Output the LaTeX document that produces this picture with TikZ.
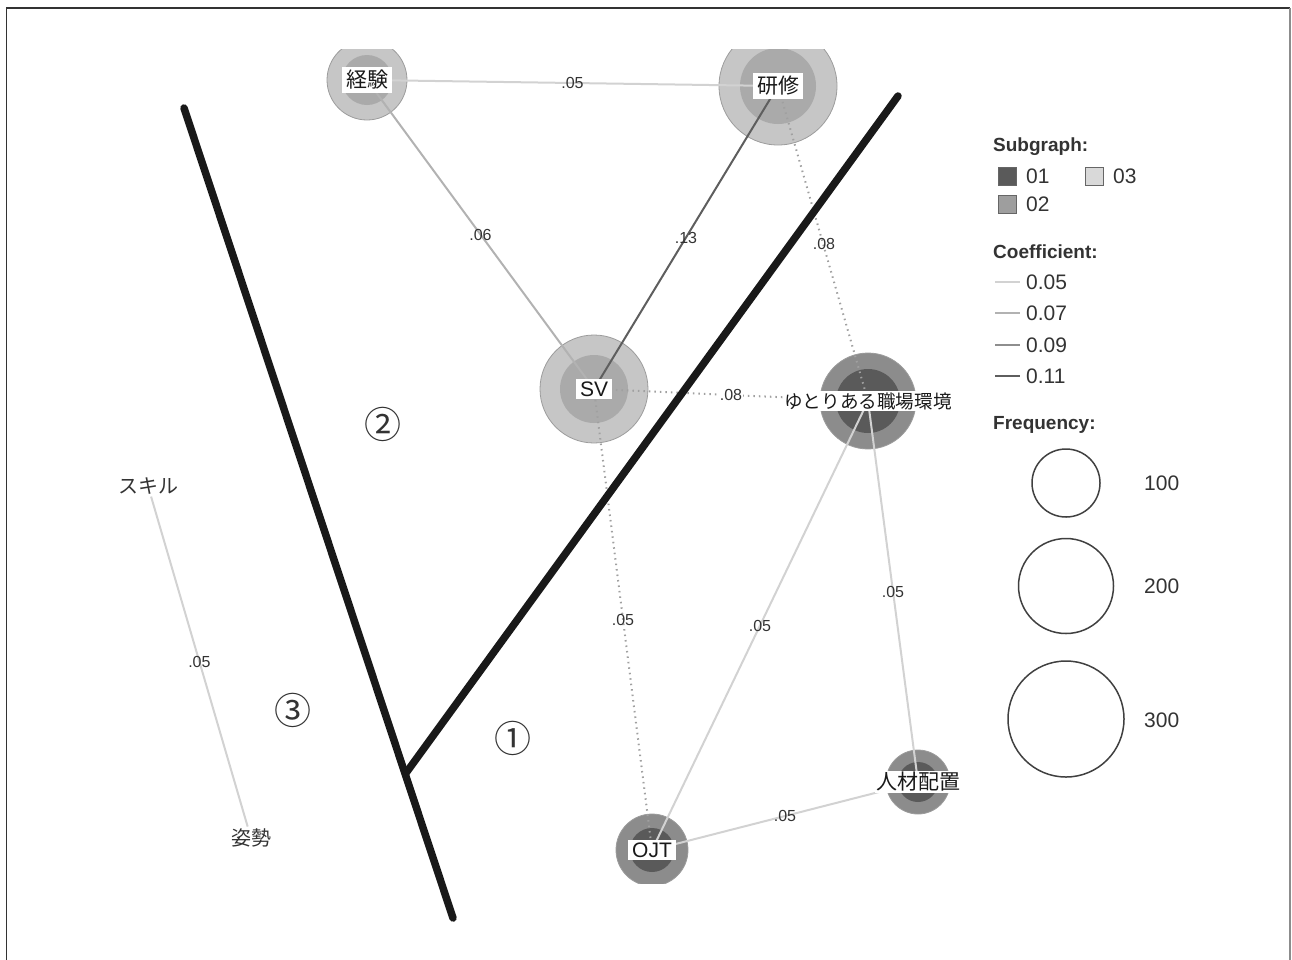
\documentclass[tikz,border=0pt]{standalone}
\usepackage{fontspec}
\setmainfont{Liberation Sans}
\newfontfamily\jp{Noto Sans CJK JP}
\definecolor{sgAout}{HTML}{8C8C8C}
\definecolor{sgAin}{HTML}{5A5A5A}
\definecolor{sgBout}{HTML}{C6C6C6}
\definecolor{sgBin}{HTML}{AAAAAA}
\definecolor{ringline}{HTML}{9C9C9C}
\definecolor{cA}{HTML}{D2D2D2}
\definecolor{cB}{HTML}{B2B2B2}
\definecolor{cC}{HTML}{8E8E8E}
\definecolor{cD}{HTML}{5E5E5E}
\definecolor{dotc}{HTML}{A0A0A0}
\definecolor{txt}{HTML}{333333}
\tikzset{
  outA/.style={circle, fill=sgAout, draw=ringline, line width=0.8pt, inner sep=0pt},
  inA/.style={circle, fill=sgAin, inner sep=0pt},
  outB/.style={circle, fill=sgBout, draw=ringline, line width=0.8pt, inner sep=0pt},
  inB/.style={circle, fill=sgBin, inner sep=0pt},
  lab/.style={fill=white, inner xsep=4pt, inner ysep=3pt, text=black!90, font=\fontsize{21}{23}\selectfont},
  plainlab/.style={inner sep=2pt, text=txt, font=\fontsize{20}{22}\selectfont},
  elab/.style={inner sep=1pt, text=txt, font=\fontsize{16}{18}\selectfont},
  eA/.style={draw=cA, line width=2pt},
  eB/.style={draw=cB, line width=2pt},
  eD/.style={draw=cD, line width=2pt},
  edot/.style={draw=dotc, line width=2pt, dash pattern=on 1.5pt off 4pt},
  divider/.style={draw=black!90, line width=7.5pt, line cap=round},
  legtitle/.style={anchor=west, text=txt, inner sep=0pt, font=\bfseries\fontsize{19}{21}\selectfont},
  legtext/.style={anchor=west, text=txt, inner sep=0pt, font=\fontsize{21}{23}\selectfont},
  legsq/.style={draw=black!60, line width=1pt, minimum size=18pt, inner sep=0pt},
  freqc/.style={circle, draw=black!75, line width=1.5pt, inner sep=0pt},
  circnum/.style={inner sep=0pt, text=txt, font=\jp\fontsize{37}{39}\selectfont},
}
\begin{document}
\begin{tikzpicture}[x=1pt, y=-1pt]
\useasboundingbox (0,0) rectangle (1292,959);
% frame
\draw[black!80, line width=1.3pt] (6.5,962) -- (6.5,8) -- (1290,8);
\draw[black!45, line width=2pt] (1290,8) -- (1290,962);

% node circles (clipped to plot panel)
\begin{scope}
\clip (0,49) rectangle (1292,883);
\node[outB, minimum size=80pt] (kei) at (367,80) {};
\node[inB, minimum size=50pt] at (kei) {};
\node[outB, minimum size=118pt] (ken) at (778,86) {};
\node[inB, minimum size=76pt] at (ken) {};
\node[outB, minimum size=108pt] (sv) at (594,389) {};
\node[inB, minimum size=68pt] at (sv) {};
\node[outA, minimum size=96pt] (yut) at (868,401) {};
\node[inA, minimum size=64pt] at (yut) {};
\node[outA, minimum size=72pt] (ojt) at (652,850) {};
\node[inA, minimum size=44pt] at (ojt) {};
\node[outA, minimum size=64pt] (jin) at (918,782) {};
\node[inA, minimum size=40pt] at (jin) {};
\end{scope}

% plain word nodes
\node[plainlab] (ski) at (148,486) {\jp スキル};
\node[plainlab] (shi) at (251,838) {\jp 姿勢};

% edges
\draw[eA] (kei.center) -- (ken.center) node[elab, midway] {.05};
\draw[eB] (kei.center) -- (sv.center) node[elab, midway] {.06};
\draw[eD] (ken.center) -- (sv.center) node[elab, midway] {.13};
\draw[edot] (ken.center) -- (yut.center) node[elab, midway, xshift=1pt] {.08};
\draw[edot] (sv.center) -- (yut.center) node[elab, midway, fill=white] {.08};
\draw[edot] (sv.center) -- (ojt.center) node[elab, midway] {.05};
\draw[eA] (yut.center) -- (ojt.center) node[elab, midway] {.05};
\draw[eA] (yut.center) -- (jin.center) node[elab, midway] {.05};
\draw[eA] (ojt.center) -- (jin.center) node[elab, midway] {.05};
\draw[eA] (ski) -- (shi) node[elab, midway] {.05};

% node labels
\node[lab] at (kei) {\jp 経験};
\node[lab] at (ken) {\jp 研修};
\node[lab] at (sv) {SV};
\node[lab, inner xsep=1pt, inner ysep=1pt, font=\fontsize{18.6}{20}\selectfont] at (yut) {\jp ゆとりある職場環境};
\node[lab, inner xsep=1pt, inner ysep=1pt] at (jin) {\jp 人材配置};
\node[lab] at (ojt) {OJT};

% dividing lines
\coordinate (a1) at (184,108);
\coordinate (a2) at (453,918);
\coordinate (b1) at (898,96);
\coordinate (bj) at (406,773);
\draw[divider] (a1) -- (a2);
\draw[divider] (b1) -- (bj);

% region numbers
\node[circnum] (r1) at (513,738) {①};
\node[circnum] (r2) at (383,424) {②};
\node[circnum] (r3) at (293,710) {③};

% legend
\node[legtitle] (lsub) at (993,147) {Subgraph:};
\node[legsq, fill=sgAin] (sq1) at (1007,176) {};
\node[legtext] at (1026,176) {01};
\node[legsq, fill=black!15] (sq3) at (1094,176) {};
\node[legtext] at (1113,176) {03};
\node[legsq, fill=black!38] (sq2) at (1007,204) {};
\node[legtext] at (1026,204) {02};

\node[legtitle] (lcoef) at (993,252) {Coefficient:};
\coordinate (c1a) at (995,282); \coordinate (c1b) at (1020,282);
\coordinate (c2a) at (995,313); \coordinate (c2b) at (1020,313);
\coordinate (c3a) at (995,345); \coordinate (c3b) at (1020,345);
\coordinate (c4a) at (995,376); \coordinate (c4b) at (1020,376);
\draw[eA] (c1a) -- (c1b);
\draw[eB] (c2a) -- (c2b);
\draw[draw=cC, line width=2pt] (c3a) -- (c3b);
\draw[eD] (c4a) -- (c4b);
\node[legtext] at (1026,282) {0.05};
\node[legtext] at (1026,313) {0.07};
\node[legtext] at (1026,345) {0.09};
\node[legtext] at (1026,376) {0.11};

\node[legtitle] (lfreq) at (993,425) {Frequency:};
\node[freqc, minimum size=68pt] (f1) at (1066,483) {};
\node[freqc, minimum size=95pt] (f2) at (1066,586) {};
\node[freqc, minimum size=116pt] (f3) at (1066,719) {};
\node[legtext] at (1144,483) {100};
\node[legtext] at (1144,586) {200};
\node[legtext] at (1144,720) {300};
\end{tikzpicture}
\end{document}
